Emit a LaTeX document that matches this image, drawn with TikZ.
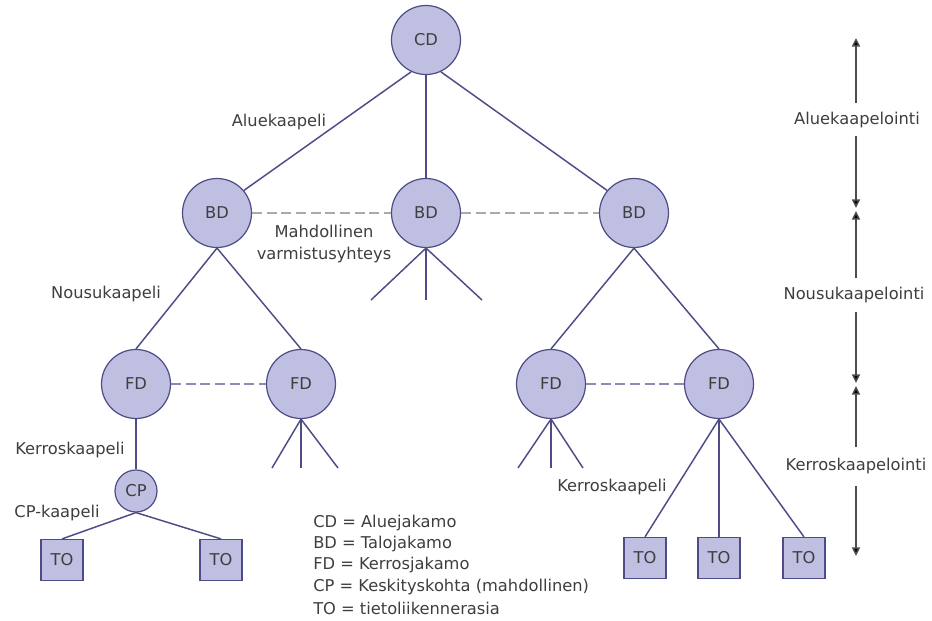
\documentclass[tikz,border=0pt]{standalone}
\usepackage{fontspec}
\setmainfont{DejaVu Sans}
\usetikzlibrary{arrows.meta}
\definecolor{nodefill}{RGB}{190,191,225}
\definecolor{nodedraw}{RGB}{78,75,135}
\definecolor{txt}{RGB}{62,62,62}
\definecolor{bddash}{RGB}{170,170,170}
\definecolor{fddash}{RGB}{140,138,180}
\begin{document}
\begin{tikzpicture}[x=0.75pt,y=-0.75pt,
  lblfont/.style={font=\fontsize{12.2}{16}\selectfont},
  circ/.style={circle,draw=nodedraw,fill=nodefill,line width=0.9pt,minimum size=51.75pt,inner sep=0pt,text=txt,lblfont},
  smallcirc/.style={circ,minimum size=31.5pt},
  tobox/.style={rectangle,draw=nodedraw,fill=nodefill,line width=0.9pt,minimum width=31.5pt,minimum height=30.75pt,inner sep=0pt,text=txt,lblfont},
  link/.style={draw=nodedraw,line width=1.1pt},
  bdlink/.style={draw=bddash,line width=1.1pt,dash pattern=on 7.5pt off 3.5pt},
  fdlink/.style={draw=fddash,line width=1.1pt,dash pattern=on 7.5pt off 3.5pt},
  lbl/.style={text=txt,lblfont,inner sep=0pt},
  level/.style={draw=black!70,line width=1.1pt,-{Triangle[width=6pt,length=6.5pt,fill=black]}}
]
\path[use as bounding box] (0,0) rectangle (932,621);

% main nodes
\node[circ] (CD) at (426,40) {CD};
\node[circ] (BD1) at (217,213) {BD};
\node[circ] (BD2) at (426,213) {BD};
\node[circ] (BD3) at (634,213) {BD};
\node[circ] (FD1) at (136,384) {FD};
\node[circ] (FD2) at (301,384) {FD};
\node[circ] (FD3) at (551,384) {FD};
\node[circ] (FD4) at (719,384) {FD};
\node[smallcirc] (CP) at (136,491) {CP};
\node[tobox] (TO1) at (62,560) {TO};
\node[tobox] (TO2) at (221,560) {TO};
\node[tobox] (TO3) at (645,558) {TO};
\node[tobox] (TO4) at (719,558) {TO};
\node[tobox] (TO5) at (804,558) {TO};

% stub ends
\coordinate (s1) at (371,300);
\coordinate (s2) at (426,300);
\coordinate (s3) at (482,300);
\coordinate (s4) at (272,468);
\coordinate (s5) at (301,468);
\coordinate (s6) at (338,468);
\coordinate (s7) at (518,468);
\coordinate (s8) at (551,468);
\coordinate (s9) at (583,468);

% connectors
\draw[link] (CD.245) -- (BD1.40);
\draw[link] (CD.south) -- (BD2.north);
\draw[link] (CD.295) -- (BD3.140);
\draw[link] (BD1.south) -- (FD1.north);
\draw[link] (BD1.south) -- (FD2.north);
\draw[link] (BD3.south) -- (FD3.north);
\draw[link] (BD3.south) -- (FD4.north);
\draw[link] (BD2.south) -- (s1);
\draw[link] (BD2.south) -- (s2);
\draw[link] (BD2.south) -- (s3);
\draw[link] (FD2.south) -- (s4);
\draw[link] (FD2.south) -- (s5);
\draw[link] (FD2.south) -- (s6);
\draw[link] (FD3.south) -- (s7);
\draw[link] (FD3.south) -- (s8);
\draw[link] (FD3.south) -- (s9);
\draw[link] (FD1.south) -- (CP.north);
\draw[link] (CP.south) -- (TO1.north);
\draw[link] (CP.south) -- (TO2.north);
\draw[link] (FD4.south) -- (TO3.north);
\draw[link] (FD4.south) -- (TO4.north);
\draw[link] (FD4.south) -- (TO5.north);

% dashed backup links
\draw[bdlink] (BD1.east) -- (BD2.west);
\draw[bdlink] (BD2.east) -- (BD3.west);
\draw[fdlink] (FD1.east) -- (FD2.west);
\draw[fdlink] (FD3.east) -- (FD4.west);

% labels
\node[lbl] (l1) at (279,122) {Aluekaapeli};
\node[lbl,align=center] (l2) at (324,244) {Mahdollinen\\varmistusyhteys};
\node[lbl] (l3) at (106,294) {Nousukaapeli};
\node[lbl] (l4) at (70,450) {Kerroskaapeli};
\node[lbl] (l5) at (57,513) {CP-kaapeli};
\node[lbl] (l6) at (612,487) {Kerroskaapeli};

% legend
\node[lbl,anchor=west] (g1) at (313,523) {CD = Aluejakamo};
\node[lbl,anchor=west] (g2) at (313,544) {BD = Talojakamo};
\node[lbl,anchor=west] (g3) at (313,565) {FD = Kerrosjakamo};
\node[lbl,anchor=west] (g4) at (313,587) {CP = Keskityskohta (mahdollinen)};
\node[lbl,anchor=west] (g5) at (313,608) {TO = tietoliikennerasia};

% levels on the right
\node[lbl] (r1) at (857,120) {Aluekaapelointi};
\node[lbl] (r2) at (854,295) {Nousukaapelointi};
\node[lbl] (r3) at (856,466) {Kerroskaapelointi};
\coordinate (a1) at (856,103);
\coordinate (t1) at (856,38);
\coordinate (a2) at (856,136);
\coordinate (t2) at (856,208);
\coordinate (a3) at (856,278);
\coordinate (t3) at (856,211);
\coordinate (a4) at (856,312);
\coordinate (t4) at (856,383);
\coordinate (a5) at (856,447);
\coordinate (t5) at (856,386);
\coordinate (a6) at (856,486);
\coordinate (t6) at (856,556);
\draw[level] (a1) -- (t1);
\draw[level] (a2) -- (t2);
\draw[level] (a3) -- (t3);
\draw[level] (a4) -- (t4);
\draw[level] (a5) -- (t5);
\draw[level] (a6) -- (t6);
\end{tikzpicture}
\end{document}
